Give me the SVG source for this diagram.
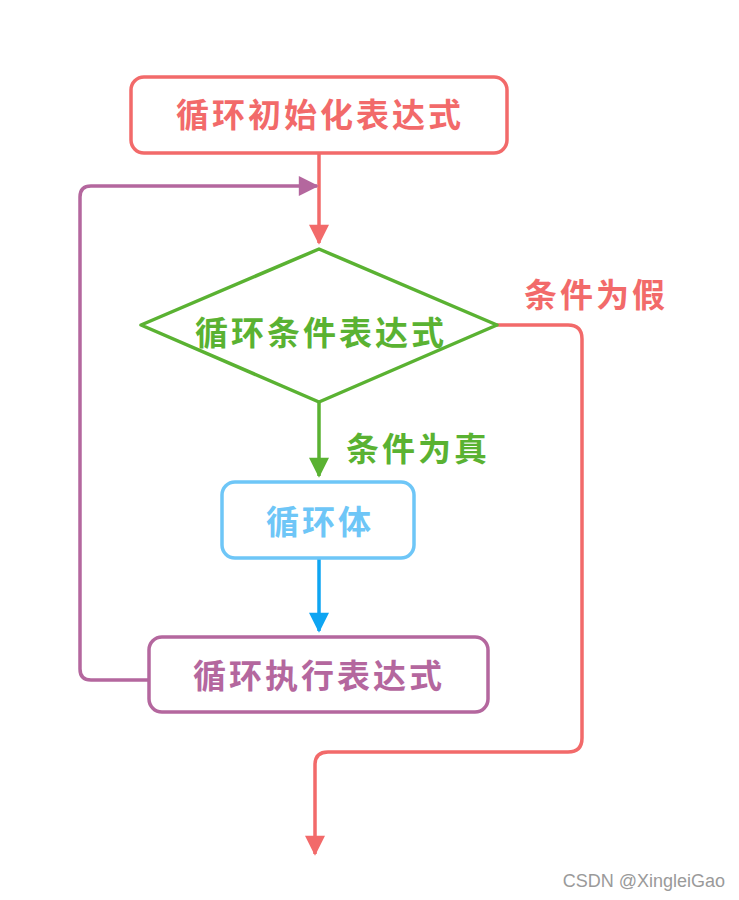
<svg xmlns="http://www.w3.org/2000/svg" width="739" height="900" viewBox="0 0 739 900">
<defs>
<marker id="ahRed" markerWidth="22" markerHeight="20" refX="20" refY="11" orient="auto" markerUnits="userSpaceOnUse" viewBox="0 0 22 22"><path d="M0,0 L22,11 L0,22 Z" fill="#f26a6a"/></marker>
<marker id="ahGreen" markerWidth="22" markerHeight="20" refX="20" refY="11" orient="auto" markerUnits="userSpaceOnUse" viewBox="0 0 22 22"><path d="M0,0 L22,11 L0,22 Z" fill="#5ab232"/></marker>
<marker id="ahBlue" markerWidth="22" markerHeight="20" refX="20" refY="11" orient="auto" markerUnits="userSpaceOnUse" viewBox="0 0 22 22"><path d="M0,0 L22,11 L0,22 Z" fill="#0ea5f2"/></marker>
<marker id="ahPurple" markerWidth="22" markerHeight="20" refX="20" refY="11" orient="auto" markerUnits="userSpaceOnUse" viewBox="0 0 22 22"><path d="M0,0 L22,11 L0,22 Z" fill="#b4679e"/></marker>
</defs>
<style>
.lbl{font-family:"Noto Sans CJK SC","Noto Sans",sans-serif;font-weight:700;font-size:33px;letter-spacing:3px;text-anchor:middle}
.line{fill:none;stroke-width:3.5;stroke-linejoin:round}
.box{fill:#fff;stroke-width:3.5}
</style>
<rect width="739" height="900" fill="#fff"/>
<g id="connectors">
<path class="line" d="M319,153 V243" stroke="#f26a6a" marker-end="url(#ahRed)"/>
<path class="line" d="M149,680 H91 Q80,680 80,669 V197 Q80,186 91,186 H317" stroke="#b4679e" marker-end="url(#ahPurple)"/>
<path class="line" d="M319,403 V476" stroke="#5ab232" marker-end="url(#ahGreen)"/>
<path class="line" d="M319,558 V631" stroke="#0ea5f2" marker-end="url(#ahBlue)"/>
<path class="line" d="M497,325 H568 Q582,325 582,339 V738 Q582,752 568,752 H328 Q315,752 315,765 V854" stroke="#f26a6a" marker-end="url(#ahRed)"/>
<text class="lbl" x="596" y="307" fill="#f26a6a">条件为假</text>
<text class="lbl" x="418" y="461" fill="#5ab232">条件为真</text>
</g>
<g id="init">
<rect class="box" x="131" y="77" width="376" height="76" rx="13" stroke="#f26a6a"/>
<text class="lbl" x="320" y="127" fill="#f26a6a">循环初始化表达式</text>
</g>
<g id="cond">
<path class="box" d="M319,249 L497,325 L319,402 L141,325 Z" stroke="#5ab232" stroke-linejoin="round"/>
<text class="lbl" x="321" y="345" fill="#5ab232">循环条件表达式</text>
</g>
<g id="body">
<rect class="box" x="222" y="482" width="192" height="76" rx="13" stroke="#6ec6f7"/>
<text class="lbl" x="320" y="534" fill="#6ec6f7">循环体</text>
</g>
<g id="exec">
<rect class="box" x="149" y="637" width="339" height="75" rx="13" stroke="#b4679e"/>
<text class="lbl" x="319" y="688" fill="#b4679e">循环执行表达式</text>
</g>
<text x="725" y="887" font-family="'Liberation Sans',Arial,sans-serif" font-size="18" fill="#9a9a9a" text-anchor="end">CSDN @XingleiGao</text>
</svg>
